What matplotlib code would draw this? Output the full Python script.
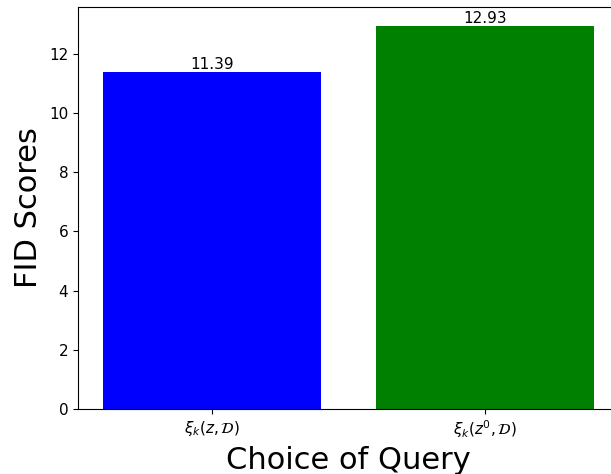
import matplotlib
matplotlib.use("Agg")
import matplotlib.pyplot as plt

queries = [r'$\xi_k(z, \mathcal{D})$', r'$\xi_k(z^0, \mathcal{D})$']
fid_scores = [11.39, 12.93]
colors = ['blue', 'green']

fig = plt.figure(figsize=(6.11, 4.74), dpi=100)
ax = fig.add_axes([78 / 611, 65 / 474, 540.5 / 611, 402 / 474])

bars = ax.bar(queries, fid_scores, color=colors)
for b, v in zip(bars, fid_scores):
    ax.text(b.get_x() + b.get_width() / 2, v, f'{v:.2f}',
            ha='center', va='bottom', fontsize=11)

ax.set_xlabel('Choice of Query', fontsize=22)
ax.set_ylabel('FID Scores', fontsize=22)
ax.tick_params(labelsize=11)

fig.savefig('out.png', dpi=100)
